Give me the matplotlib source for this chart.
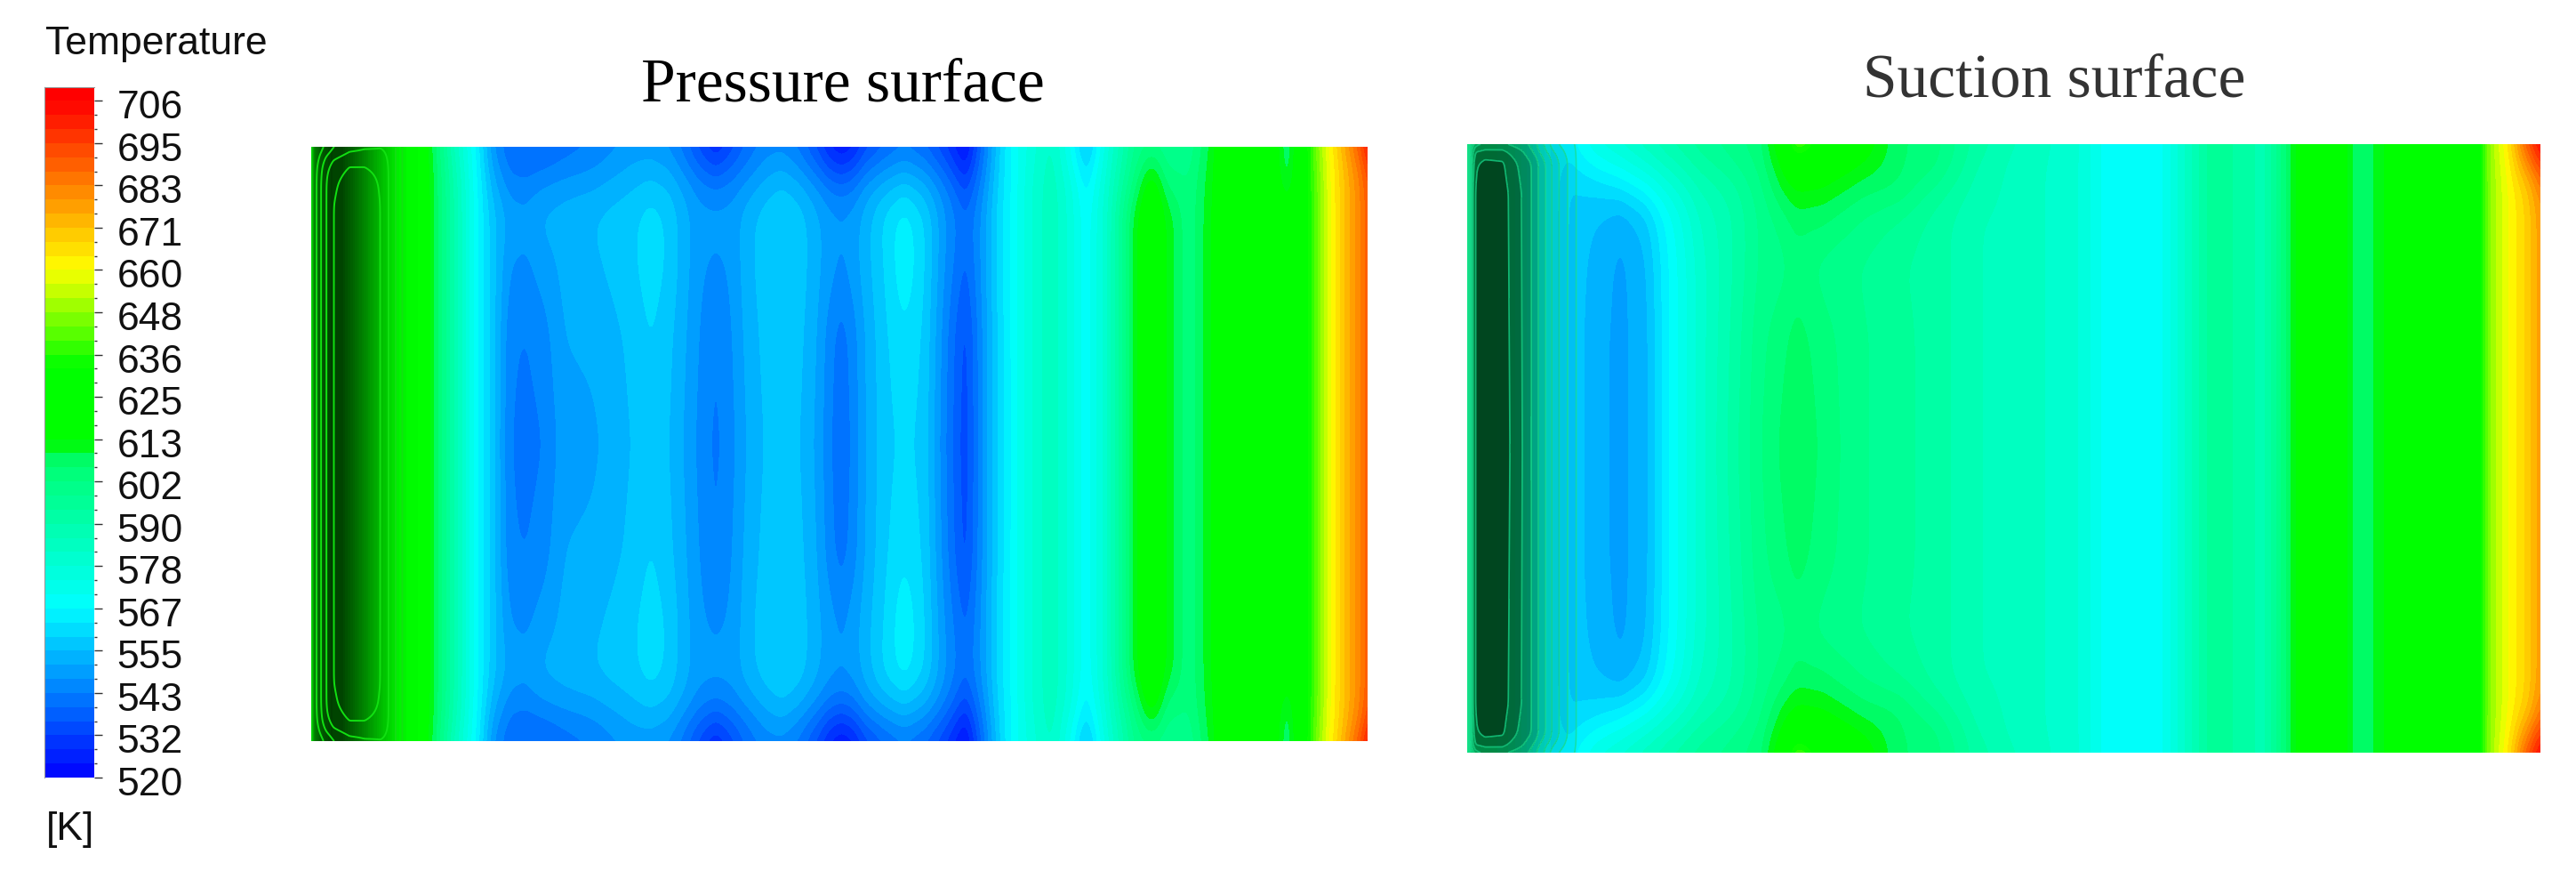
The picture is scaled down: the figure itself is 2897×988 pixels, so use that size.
import numpy as np
import matplotlib
matplotlib.use("Agg")
import matplotlib.pyplot as plt
from matplotlib.colors import LinearSegmentedColormap
from matplotlib.transforms import ScaledTranslation
from matplotlib.ticker import FixedLocator

W, H = 2897, 988

# Colour bar
tick_labels = ["520", "532", "543", "555", "567", "578", "590", "602", "613",
               "625", "636", "648", "660", "671", "683", "695", "706"]
t_min, t_max = 520, 706

# Spanwise stations (fraction of height from the top edge), mirrored below
span = [0, 0.03, 0.07, 0.12, 0.20, 0.32, 0.50]

# Pressure surface: temperature read along each chord station
press_x = [350, 428, 470, 490, 510, 536, 555, 573, 591, 611, 634, 667, 692, 712, 732, 752,
           768, 786, 805, 824, 839, 860, 879, 899, 919, 932, 946, 960, 973, 995, 1017, 1040,
           1062, 1086, 1105, 1124, 1138, 1160, 1182, 1200, 1222, 1245, 1277, 1295, 1313, 1337,
           1363, 1383, 1425, 1448, 1465, 1483, 1497, 1517, 1533, 1538]
press_s00 = [625, 625, 622, 605, 585, 565, 546, 540, 540, 539, 541, 543, 546, 548, 548, 546,
             541, 533, 526, 533, 539, 544, 545, 541, 533, 526, 522, 525, 532, 538, 542, 538,
             531, 520, 540, 558, 567, 576, 583, 572, 553, 576, 598, 600, 598, 598,
             610, 625, 625, 603, 625, 648, 662, 680, 695, 705]
press_s03 = [625, 625, 623, 607, 588, 566, 549, 541, 540, 541, 543, 546, 549, 551, 552, 550,
             545, 539, 534, 539, 543, 548, 550, 546, 539, 533, 530, 533, 540, 545, 548, 545,
             537, 526, 542, 559, 567, 577, 584, 574, 560, 578, 600, 610, 600, 600,
             612, 625, 625, 604, 625, 646, 660, 675, 686, 695]
press_s07 = [625, 625, 624, 607, 590, 567, 553, 546, 545, 548, 550, 551, 553, 555, 557, 555,
             551, 546, 544, 546, 549, 553, 556, 553, 548, 544, 542, 544, 549, 554, 558, 553,
             545, 534, 546, 560, 567, 578, 585, 578, 565, 580, 605, 620, 605, 602,
             612, 625, 625, 608, 625, 645, 660, 674, 684, 691]
press_s12 = [625, 625, 625, 607, 590, 567, 556, 550, 549, 552, 553, 555, 557, 558, 561, 558,
             553, 549, 549, 549, 553, 557, 559, 557, 552, 549, 548, 549, 553, 560, 565, 559,
             548, 540, 548, 561, 567, 578, 585, 578, 567, 581, 612, 623, 612, 602,
             613, 625, 625, 618, 625, 645, 660, 674, 684, 690]
press_s20 = [625, 625, 625, 607, 590, 567, 556, 547, 546, 549, 552, 554, 556, 558, 561, 558,
             553, 548, 546, 548, 553, 557, 559, 557, 552, 549, 546, 549, 553, 559, 566, 559,
             547, 538, 548, 561, 567, 578, 585, 578, 567, 581, 612, 623, 612, 602,
             613, 625, 625, 625, 625, 645, 660, 674, 684, 690]
press_s32 = [625, 625, 625, 607, 590, 567, 556, 544, 543, 545, 551, 552, 554, 556, 559, 556,
             552, 547, 543, 547, 552, 556, 559, 556, 551, 545, 541, 545, 551, 558, 562, 558,
             545, 533, 547, 560, 567, 578, 585, 578, 567, 581, 612, 623, 612, 602,
             613, 625, 625, 624, 625, 645, 660, 674, 684, 690]
press_s50 = [625, 625, 625, 607, 590, 567, 556, 543, 542, 543, 549, 550, 553, 555, 558, 555,
             551, 546, 542, 546, 551, 555, 558, 555, 550, 544, 540, 544, 551, 557, 560, 557,
             544, 532, 547, 560, 567, 578, 585, 578, 567, 581, 612, 623, 612, 602,
             613, 625, 625, 621, 625, 645, 660, 674, 684, 690]

# Pressure surface: darkening of the leading edge, and its outline lines
press_shade_x = [350, 354, 360, 372, 385, 400, 428, 450, 470]
press_shade = [0.1, 0.6, 0.75, 0.88, 0.85, 0.68, 0.32, 0.05, 0]
outline_x = [350, 356, 361, 367, 375, 393, 410, 428, 437, 445, 452, 470]
outline_span = [0, 0.02, 0.034, 0.06, 0.10, 0.50]
outline_s00 = [0, 0.05, 0.12, 0.22, 0.35, 0.5, 0.55, 0.58, 0.58, 0.4, 0.2, 0]
outline_s02 = [0, 0.12, 0.28, 0.45, 0.6, 0.72, 0.72, 0.66, 0.58, 0.4, 0.2, 0]
outline_s03 = [0, 0.18, 0.36, 0.55, 0.68, 0.81, 0.81, 0.74, 0.6, 0.4, 0.2, 0]
outline_s06 = [0, 0.2, 0.4, 0.6, 0.76, 0.9, 0.9, 0.78, 0.6, 0.4, 0.2, 0]
outline_s10 = [0, 0.2, 0.4, 0.6, 0.8, 0.92, 0.92, 0.8, 0.6, 0.4, 0.2, 0]
outline_s50 = [0, 0.2, 0.4, 0.6, 0.8, 0.95, 0.95, 0.8, 0.6, 0.4, 0.2, 0]

# Suction surface: temperature read along each chord station
suct_x = [1650, 1654, 1690, 1712, 1745, 1765, 1796, 1823, 1850, 1876, 1912, 1950, 1979, 2004,
          2021, 2050, 2095, 2135, 2175, 2224, 2260, 2300, 2340, 2369, 2431, 2489, 2547, 2582,
          2600, 2630, 2644, 2680, 2690, 2729, 2770, 2789, 2796, 2822, 2840, 2850, 2857]
suct_s00 = [612, 600, 597, 585, 565, 565, 575, 580, 585, 590, 596, 600, 604, 620,
            650, 628, 618, 606, 603, 592, 587, 583, 578, 568, 569, 597, 588, 613,
            625, 625, 607, 610, 621, 622, 625, 626, 645, 665, 690, 700, 708]
suct_s03 = [612, 600, 597, 585, 565, 562, 568, 572, 578, 584, 592, 598, 603, 613,
            620, 619, 613, 606, 604, 590, 585, 582, 578, 568, 569, 597, 588, 613,
            625, 625, 607, 610, 621, 627, 625, 626, 645, 662, 678, 688, 695]
suct_s07 = [612, 600, 597, 585, 565, 558, 560, 563, 568, 576, 586, 592, 600, 610,
            614, 613, 607, 606, 597, 588, 585, 582, 578, 568, 569, 597, 588, 613,
            625, 625, 607, 610, 621, 630, 625, 626, 645, 660, 668, 674, 682]
suct_s12 = [612, 600, 597, 585, 565, 558, 555, 552, 557, 568, 582, 590, 598, 603,
            607, 606, 601, 597, 592, 586, 585, 582, 578, 568, 569, 597, 588, 613,
            625, 625, 607, 610, 621, 630, 625, 626, 645, 660, 667, 673, 678]
suct_s20 = [612, 600, 597, 585, 565, 558, 553, 550, 554, 566, 580, 590, 598, 600,
            603, 600, 597, 594, 592, 586, 585, 582, 578, 568, 569, 597, 588, 613,
            625, 625, 607, 610, 621, 628, 625, 626, 645, 660, 667, 673, 678]
suct_s32 = [612, 600, 597, 585, 565, 558, 552, 550, 553, 566, 580, 591, 600, 604,
            607, 603, 598, 595, 592, 586, 585, 582, 578, 568, 569, 597, 588, 613,
            625, 625, 607, 610, 621, 626, 625, 626, 645, 660, 667, 673, 678]
suct_s50 = [612, 600, 597, 585, 565, 558, 552, 550, 553, 566, 580, 592, 601, 606,
            610, 604, 598, 595, 592, 586, 585, 582, 578, 568, 569, 597, 588, 613,
            625, 625, 607, 610, 621, 624, 625, 626, 645, 660, 667, 673, 678]

# Suction surface: stepped darkening of the leading edge
suct_shade_x = [1650, 1654, 1657, 1660, 1670, 1690, 1698, 1712, 1722, 1730, 1738, 1747, 1763, 1775]
suct_shade_span = [0, 0.01, 0.03, 0.08, 0.50]
suct_shade_s00 = [0, 0.2, 0.3, 0.4, 0.5, 0.5, 0.45, 0.4, 0.35, 0.28, 0.2, 0.12, 0.05, 0]
suct_shade_s01 = [0, 0.3, 0.5, 0.65, 0.68, 0.68, 0.62, 0.5, 0.38, 0.3, 0.22, 0.16, 0.08, 0]
suct_shade_s03 = [0, 0.3, 0.6, 0.78, 0.84, 0.82, 0.72, 0.6, 0.5, 0.38, 0.3, 0.2, 0.1, 0]
suct_shade_s08 = [0, 0.3, 0.7, 0.82, 0.9, 0.87, 0.78, 0.64, 0.5, 0.38, 0.3, 0.2, 0.1, 0]
suct_shade_s50 = [0, 0.3, 0.7, 0.82, 0.9, 0.9, 0.8, 0.65, 0.5, 0.38, 0.3, 0.2, 0.1, 0]

plt.rcParams["font.family"] = ["Liberation Sans", "DejaVu Sans"]

# Fluent style rainbow
anchors = [(520, (0, 0, 255)), (567, (0, 255, 255)), (607, (0, 255, 110)), (609, (0, 240, 60)),
           (612, (0, 255, 0)), (633, (0, 255, 0)), (660, (255, 255, 0)), (706, (255, 0, 0))]
rainbow = LinearSegmentedColormap.from_list(
    "fluent",
    [((t - t_min) / (t_max - t_min), tuple(c / 255 for c in rgb)) for t, rgb in anchors],
    N=512,
)
band = (t_max - t_min) / 48
levels = t_min + band * np.arange(49)


def px_axes(fig, left, top, right, bottom):
    return fig.add_axes([left / W, 1 - bottom / H, (right - left) / W, (bottom - top) / H])


def mirror(rows, stations):
    rows = np.array(rows, dtype=float)
    stations = np.array(stations, dtype=float)
    return np.vstack([rows, rows[-2::-1]]), np.concatenate([stations, 1 - stations[-2::-1]])


def blur(a, sigma, axis):
    if sigma <= 0:
        return a
    r = int(3 * sigma) + 1
    k = np.exp(-0.5 * (np.arange(-r, r + 1) / sigma) ** 2)
    k = k / k.sum()
    pad = [(0, 0), (0, 0)]
    pad[axis] = (r, r)
    b = np.pad(a, pad, mode="edge")
    return np.apply_along_axis(lambda v: np.convolve(v, k, mode="valid"), axis, b)


def fine_field(x, s, z, height, sx, sy):
    # table -> fine grid for contouring, softened a little
    gx = np.arange(x[0], x[-1] + 1, 1.0)
    gy = np.arange(0, height + 1, 2.0)
    by_col = np.array([np.interp(gx, x, row) for row in z])
    grid = np.array([np.interp(gy, np.array(s) * height, by_col[:, i]) for i in range(len(gx))]).T
    grid = blur(grid, sx, 1)
    grid = blur(grid, sy, 0)
    return gx, gy, grid


def draw_field(ax, x, rows, height):
    z, s = mirror(rows, span)
    gx, gy, grid = fine_field(x, s, z, height, 5, 9)
    ax.contourf(gx, gy, np.clip(grid, t_min, t_max - 0.01), levels=levels, cmap=rainbow,
                vmin=t_min, vmax=t_max)
    ax.set_xlim(x[0], x[-1])
    ax.set_ylim(height, 0)
    ax.axis("off")


fig = plt.figure(figsize=(W / 100, H / 100), dpi=100, facecolor="white")

# ----------------------------
# Pressure surface
# ----------------------------
p_height = 668
ax1 = px_axes(fig, 350, 165, 1538, 833)
draw_field(ax1, press_x, [press_s00, press_s03, press_s07, press_s12, press_s20, press_s32, press_s50], p_height)

dark1 = LinearSegmentedColormap.from_list("dark1", [(0, 0.16, 0, 0), (0, 0.16, 0, 1)], N=64)
ax1.contourf(press_shade_x, [0, p_height], [press_shade, press_shade],
             levels=np.linspace(0, 1, 33), cmap=dark1, vmin=0, vmax=1)

z, s = mirror([outline_s00, outline_s02, outline_s03, outline_s06, outline_s10, outline_s50], outline_span)
gx, gy, grid = fine_field(outline_x, s, z, p_height, 1, 3)
ax1.contour(gx, gy, grid, levels=[0.2, 0.4, 0.6, 0.8], colors=["#12e012"], linewidths=1.4)

# ----------------------------
# Suction surface
# ----------------------------
s_height = 684
ax2 = px_axes(fig, 1650, 162, 2857, 846)
draw_field(ax2, suct_x, [suct_s00, suct_s03, suct_s07, suct_s12, suct_s20, suct_s32, suct_s50], s_height)

dark2 = LinearSegmentedColormap.from_list("dark2", [(0, 0.2, 0.08, 0), (0, 0.2, 0.08, 1)], N=64)
shade_levels = [0.02, 0.1, 0.16, 0.22, 0.3, 0.38, 0.5, 0.65, 0.8, 1.0]
z, s = mirror([suct_shade_s00, suct_shade_s01, suct_shade_s03, suct_shade_s08, suct_shade_s50], suct_shade_span)
gx, gy, grid = fine_field(suct_shade_x, s, z, s_height, 0.7, 2)
ax2.contourf(gx, gy, grid, levels=shade_levels, cmap=dark2, vmin=0, vmax=1)
ax2.contour(gx, gy, grid, levels=shade_levels[:-1], colors=["#18e090"], linewidths=1.2, alpha=0.75)

# ----------------------------
# Colour bar
# ----------------------------
cax = px_axes(fig, 50, 98, 106, 874)
top_value = t_min + (874 - 98) / 4.09
cb_edges = np.append(levels, top_value)
cax.pcolormesh([0, 1], cb_edges, np.append(levels[:-1] + band / 2, t_max - 0.01)[:, None],
               cmap=rainbow, vmin=t_min, vmax=t_max)
cax.set_xlim(0, 1)
cax.set_ylim(t_min, top_value)
cax.set_xticks([])
cax.yaxis.tick_right()
cax.set_yticks(np.linspace(t_min, t_max, 17))
cax.set_yticklabels(tick_labels)
cax.yaxis.set_minor_locator(FixedLocator(levels))
cax.tick_params(axis="y", which="major", length=6.5, width=1, color="#333333", pad=12,
                labelsize=32, labelcolor="#111111")
cax.tick_params(axis="y", which="minor", length=2.5, width=1, color="#333333")
for side in ["right", "bottom"]:
    cax.spines[side].set_visible(False)
for side in ["left", "top"]:
    cax.spines[side].set_color("#999999")
offset = ScaledTranslation(0, -4 / 100, fig.dpi_scale_trans)
for lab in cax.get_yticklabels():
    lab.set_transform(lab.get_transform() + offset)

fig.text(51 / W, 1 - 50 / H, "Temperature", fontsize=32, color="#111111", va="center", ha="left")
fig.text(52 / W, 1 - 932 / H, "[K]", fontsize=32, color="#111111", va="center", ha="left")

fig.text(948 / W, 1 - 97 / H, "Pressure surface", fontsize=50, family="Liberation Serif",
         color="black", va="center", ha="center")
fig.text(2310 / W, 1 - 92 / H, "Suction surface", fontsize=50, family="Liberation Serif",
         color="#333333", va="center", ha="center")

fig.savefig("out.png", dpi=100)
